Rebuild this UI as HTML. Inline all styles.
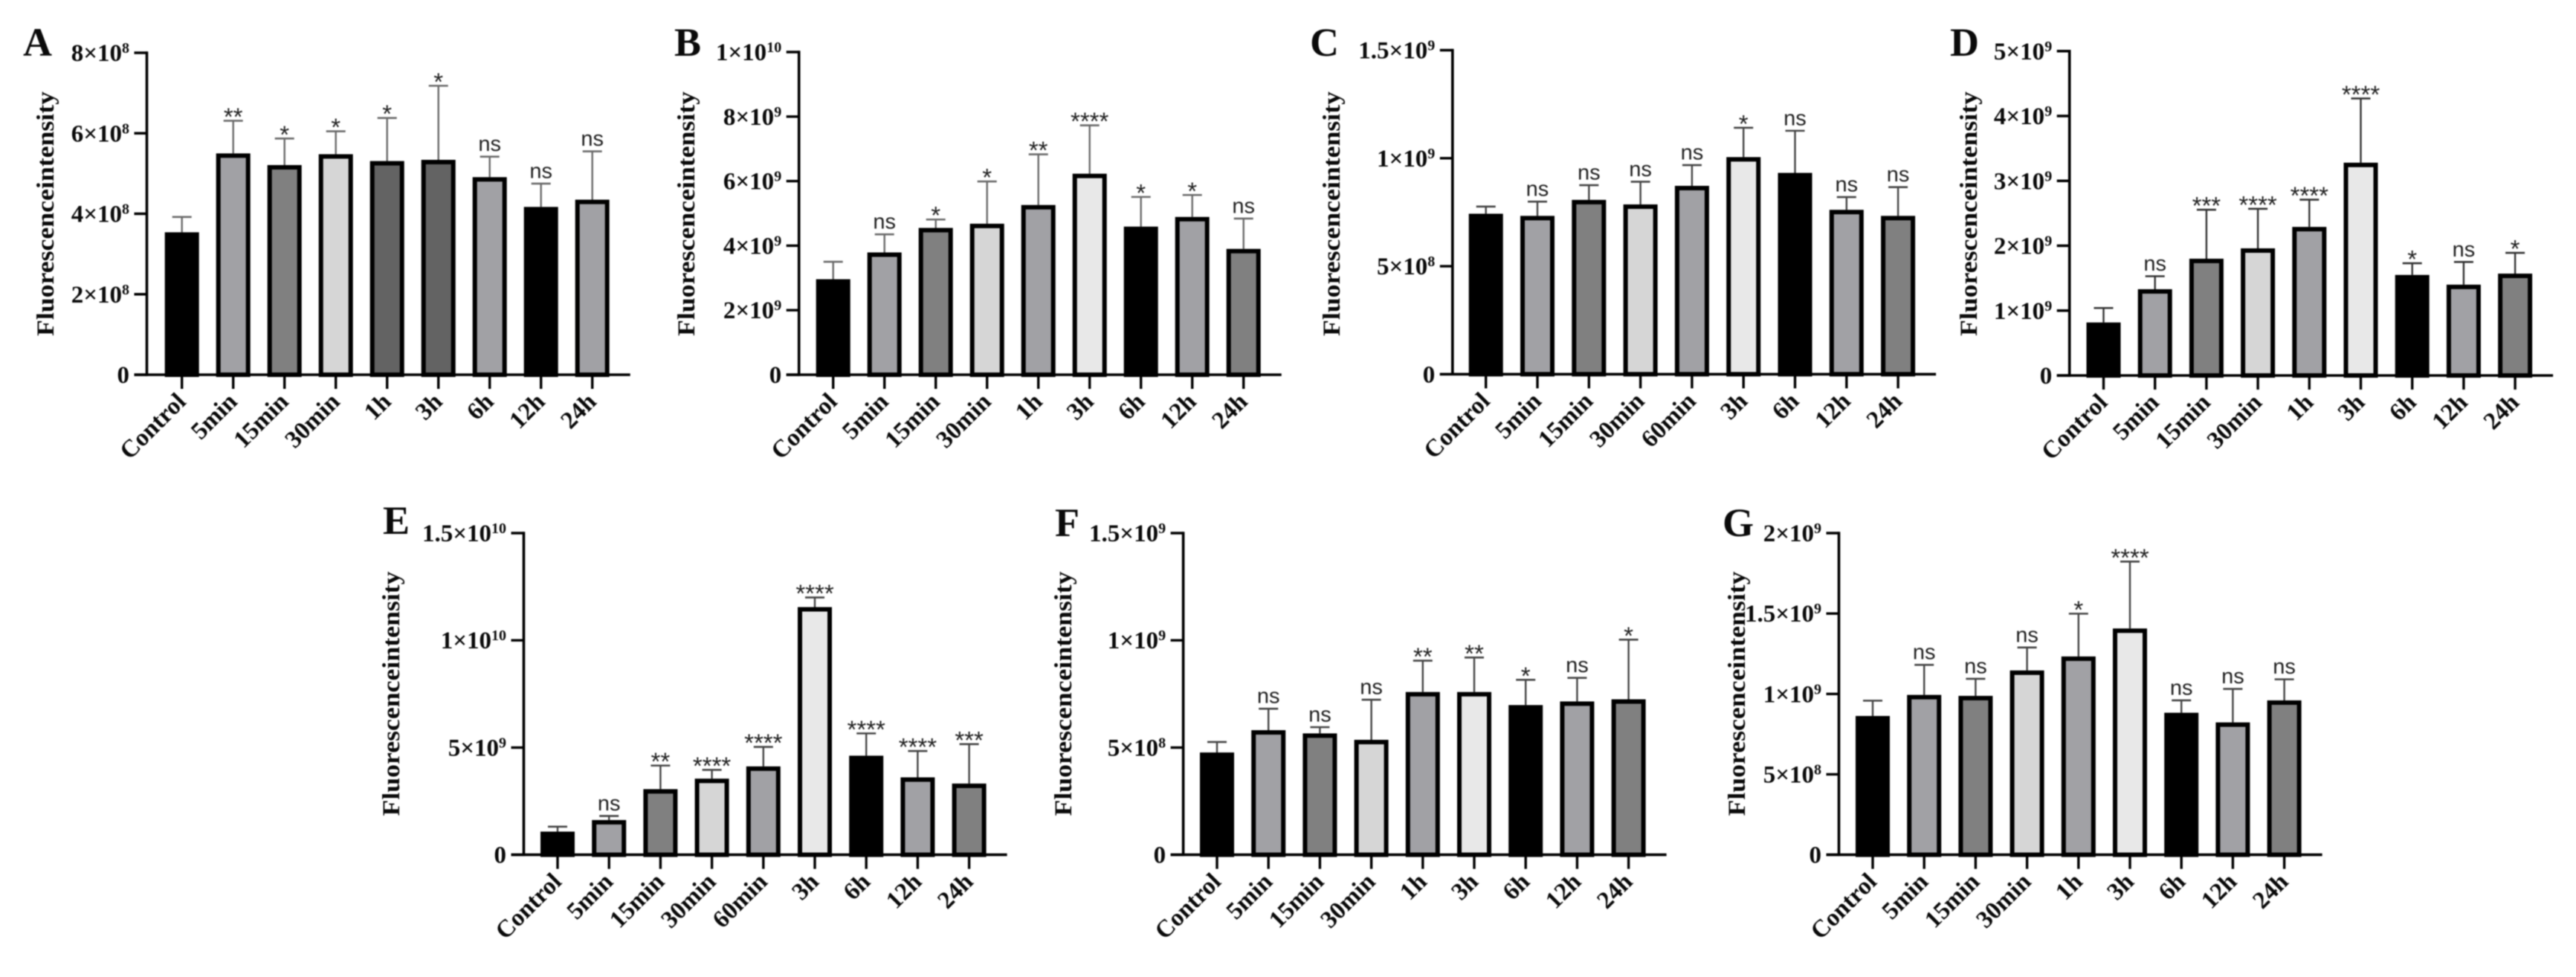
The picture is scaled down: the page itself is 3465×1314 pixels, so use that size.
<!DOCTYPE html>
<html lang="en">
<head>
<meta charset="utf-8">
<title>Fluorescence intensity bar charts</title>
<style>
  html, body { margin: 0; padding: 0; background: #fff; }
  body { width: 3465px; height: 1314px; overflow: hidden; }
  svg { display: block; filter: blur(0.9px); }
  text { fill: #0a0a0a; }
  .serif { font-family: "Liberation Serif", serif; font-weight: 700; }
  .sans { font-family: "Liberation Sans", sans-serif; font-weight: 400; fill: #222; }
</style>
</head>
<body>
<svg id="figure" xmlns="http://www.w3.org/2000/svg" width="3465" height="1314" viewBox="0 0 3465 1314"></svg>
<script>
// ---- Panel data ----
const categoriesA = ["Control","5min","15min","30min","1h","3h","6h","12h","24h"];
const valuesA = [3.54e8,5.5e8,5.21e8,5.48e8,5.31e8,5.34e8,4.91e8,4.17e8,4.35e8];
const errorTopsA = [3.92e8,6.31e8,5.87e8,6.05e8,6.38e8,7.18e8,5.42e8,4.75e8,5.55e8];
const significanceA = ["","**","*","*","*","*","ns","ns","ns"];
const yTickValuesA = [0,2e8,4e8,6e8,8e8];
const yTickLabelsA = ["0","2×10^8","4×10^8","6×10^8","8×10^8"];

const categoriesB = ["Control","5min","15min","30min","1h","3h","6h","12h","24h"];
const valuesB = [2.96e9,3.79e9,4.55e9,4.68e9,5.26e9,6.23e9,4.59e9,4.89e9,3.9e9];
const errorTopsB = [3.5e9,4.35e9,4.81e9,5.99e9,6.83e9,7.73e9,5.51e9,5.57e9,4.84e9];
const significanceB = ["","ns","*","*","**","****","*","*","ns"];
const yTickValuesB = [0,2e9,4e9,6e9,8e9,1e10];
const yTickLabelsB = ["0","2×10^9","4×10^9","6×10^9","8×10^9","1×10^10"];

const categoriesC = ["Control","5min","15min","30min","60min","3h","6h","12h","24h"];
const valuesC = [7.43e8,7.33e8,8.07e8,7.86e8,8.72e8,1.005e9,9.32e8,7.61e8,7.33e8];
const errorTopsC = [7.76e8,7.99e8,8.75e8,8.91e8,9.68e8,1.141e9,1.127e9,8.2e8,8.66e8];
const significanceC = ["","ns","ns","ns","ns","*","ns","ns","ns"];
const yTickValuesC = [0,5e8,1e9,1.5e9];
const yTickLabelsC = ["0","5×10^8","1×10^9","1.5×10^9"];

const categoriesD = ["Control","5min","15min","30min","1h","3h","6h","12h","24h"];
const valuesD = [8.17e8,1.33e9,1.8e9,1.96e9,2.29e9,3.28e9,1.55e9,1.4e9,1.57e9];
const errorTopsD = [1.04e9,1.53e9,2.555e9,2.57e9,2.71e9,4.27e9,1.73e9,1.75e9,1.89e9];
const significanceD = ["","ns","***","****","****","****","*","ns","*"];
const yTickValuesD = [0,1e9,2e9,3e9,4e9,5e9];
const yTickLabelsD = ["0","1×10^9","2×10^9","3×10^9","4×10^9","5×10^9"];

const categoriesE = ["Control","5min","15min","30min","60min","3h","6h","12h","24h"];
const valuesE = [1.08e9,1.62e9,3.06e9,3.55e9,4.12e9,1.155e10,4.62e9,3.61e9,3.32e9];
const errorTopsE = [1.31e9,1.81e9,4.16e9,3.96e9,5.03e9,1.2e10,5.66e9,4.84e9,5.16e9];
const significanceE = ["","ns","**","****","****","****","****","****","***"];
const yTickValuesE = [0,5e9,1e10,1.5e10];
const yTickLabelsE = ["0","5×10^9","1×10^10","1.5×10^10"];

const categoriesF = ["Control","5min","15min","30min","1h","3h","6h","12h","24h"];
const valuesF = [4.77e8,5.81e8,5.66e8,5.36e8,7.59e8,7.59e8,6.98e8,7.15e8,7.25e8];
const errorTopsF = [5.26e8,6.81e8,5.95e8,7.23e8,9.05e8,9.2e8,8.16e8,8.25e8,1.003e9];
const significanceF = ["","ns","ns","ns","**","**","*","ns","*"];
const yTickValuesF = [0,5e8,1e9,1.5e9];
const yTickLabelsF = ["0","5×10^8","1×10^9","1.5×10^9"];

const categoriesG = ["Control","5min","15min","30min","1h","3h","6h","12h","24h"];
const valuesG = [8.63e8,9.94e8,9.88e8,1.146e9,1.233e9,1.407e9,8.83e8,8.23e8,9.6e8];
const errorTopsG = [9.58e8,1.181e9,1.094e9,1.289e9,1.499e9,1.823e9,9.6e8,1.031e9,1.091e9];
const significanceG = ["","ns","ns","ns","*","****","ns","ns","ns"];
const yTickValuesG = [0,5e8,1e9,1.5e9,2e9];
const yTickLabelsG = ["0","5×10^8","1×10^9","1.5×10^9","2×10^9"];

// ---- Series styling ----
const fillsA = ["#000","#a1a1a5","#808080","#d6d6d6","#636363","#636363","#a1a1a5","#000","#a1a1a5"];
const fillsStd = ["#000","#a1a1a5","#808080","#d6d6d6","#a1a1a5","#e8e8e8","#000","#a1a1a5","#808080"];

// ---- Panel wiring and frame geometry ----
const panels = [
  {id:"A",cats:categoriesA,vals:valuesA,errs:errorTopsA,sig:significanceA,tv:yTickValuesA,tl:yTickLabelsA,fills:fillsA,errColor:"#6a6a6a",
   axisX:197.5,firstX:244.7,step:69,y0:504,yTop:71,titleX:72,titleY:287.5,letterX:31,letterY:75},
  {id:"B",cats:categoriesB,vals:valuesB,errs:errorTopsB,sig:significanceB,tv:yTickValuesB,tl:yTickLabelsB,fills:fillsStd,errColor:"#6a6a6a",
   axisX:1074.7,firstX:1120.7,step:69,y0:504,yTop:70,titleX:934,titleY:287.5,letterX:907,letterY:75},
  {id:"C",cats:categoriesC,vals:valuesC,errs:errorTopsC,sig:significanceC,tv:yTickValuesC,tl:yTickLabelsC,fills:fillsStd,errColor:"#444",
   axisX:1953.8,firstX:1998.7,step:69.3,y0:503.3,yTop:67.5,titleX:1802,titleY:287.5,letterX:1762,letterY:75},
  {id:"D",cats:categoriesD,vals:valuesD,errs:errorTopsD,sig:significanceD,tv:yTickValuesD,tl:yTickLabelsD,fills:fillsStd,errColor:"#333",
   axisX:2783.7,firstX:2829.5,step:69.2,y0:505,yTop:68.75,titleX:2659,titleY:287.5,letterX:2623,letterY:75},
  {id:"E",cats:categoriesE,vals:valuesE,errs:errorTopsE,sig:significanceE,tv:yTickValuesE,tl:yTickLabelsE,fills:fillsStd,errColor:"#444",
   axisX:704.5,firstX:750,step:69.2,y0:1149.6,yTop:717,titleX:537,titleY:933,letterX:515,letterY:718},
  {id:"F",cats:categoriesF,vals:valuesF,errs:errorTopsF,sig:significanceF,tv:yTickValuesF,tl:yTickLabelsF,fills:fillsStd,errColor:"#444",
   axisX:1591.6,firstX:1637,step:69.2,y0:1149.6,yTop:717,titleX:1441,titleY:933,letterX:1419,letterY:721},
  {id:"G",cats:categoriesG,vals:valuesG,errs:errorTopsG,sig:significanceG,tv:yTickValuesG,tl:yTickLabelsG,fills:fillsStd,errColor:"#444",
   axisX:2473.5,firstX:2519,step:69.2,y0:1149.6,yTop:717,titleX:2347,titleY:933,letterX:2317,letterY:721}
];

const NS = "http://www.w3.org/2000/svg";
function svgEl(tag, attrs, parent) {
  const el = document.createElementNS(NS, tag);
  for (const k in attrs) el.setAttribute(k, attrs[k]);
  parent.appendChild(el);
  return el;
}

const figure = document.getElementById("figure");
const BAR_W = 46, BORDER = 6, CAP_HALF = 13;

panels.forEach(function (p) {
  const yMax = p.tv[p.tv.length - 1];
  const yScale = function (v) { return p.y0 - (v / yMax) * (p.y0 - p.yTop); };
  const xScale = function (i) { return p.firstX + i * p.step; };
  const xEnd = xScale(p.cats.length - 1) + 51;

  const g = svgEl("g", {}, figure);
  
  

  const letter = svgEl("text", {x:p.letterX, y:p.letterY, "class":"serif", "font-size":54}, g);
  letter.textContent = p.id;
  
  

  const title = svgEl("text", {
    transform:"translate(" + p.titleX + "," + p.titleY + ") rotate(-90)",
    "text-anchor":"middle", "class":"serif", "font-size":33,
    textLength:329, lengthAdjust:"spacingAndGlyphs"
  }, g);
  title.textContent = "Fluorescenceintensity";
  
  

  p.vals.forEach(function (v, i) {
    const cx = xScale(i), top = yScale(v), errY = yScale(p.errs[i]);

    const errLine = svgEl("line", {x1:cx, x2:cx, y1:errY, y2:top, stroke:p.errColor, "stroke-width":2.4}, g);
    
    

    const errCap = svgEl("line", {x1:cx - CAP_HALF, x2:cx + CAP_HALF, y1:errY, y2:errY, stroke:p.errColor, "stroke-width":2.6}, g);
    
    

    const bar = svgEl("rect", {
      x:cx - BAR_W / 2 + BORDER / 2, y:top + BORDER / 2,
      width:BAR_W - BORDER, height:Math.max(0, p.y0 - top - BORDER / 2),
      fill:p.fills[i], stroke:"#000", "stroke-width":BORDER
    }, g);
    
    

    if (p.sig[i]) {
      const isNs = p.sig[i] === "ns";
      const sig = svgEl("text", {
        x:cx, y:isNs ? errY - 7.5 : errY + 6,
        "text-anchor":"middle", "class":"sans", "font-size":isNs ? 29 : 33
      }, g);
      sig.textContent = p.sig[i];
      
      
    }

    const xTick = svgEl("line", {x1:cx, x2:cx, y1:p.y0, y2:p.y0 + 19, stroke:"#000", "stroke-width":3.4}, g);
    
    

    const xLabel = svgEl("text", {
      transform:"translate(" + (cx + 7) + "," + (p.y0 + 38) + ") rotate(-45)",
      "text-anchor":"end", "class":"serif", "font-size":33
    }, g);
    xLabel.textContent = p.cats[i];
    
    
  });

  p.tv.forEach(function (t, i) {
    const y = yScale(t);
    const yTick = svgEl("line", {x1:p.axisX - 17, x2:p.axisX, y1:y, y2:y, stroke:"#000", "stroke-width":3.4}, g);
    
    

    const parts = p.tl[i].split("^");
    const yLabel = svgEl("text", {
      x:p.axisX - 23.5, y:y + 11, "text-anchor":"end", "class":"serif", "font-size":33
    }, g);
    
    
    const base = svgEl("tspan", {}, yLabel);
    base.textContent = parts[0];
    if (parts[1]) {
      const sup = svgEl("tspan", {dy:-11, "font-size":20}, yLabel);
      sup.textContent = parts[1];
    }
  });

  const yAxis = svgEl("line", {x1:p.axisX, x2:p.axisX, y1:p.yTop - 1.7, y2:p.y0 + 1.7, stroke:"#000", "stroke-width":3.6}, g);
  
  

  const xAxis = svgEl("line", {x1:p.axisX - 17, x2:xEnd, y1:p.y0, y2:p.y0, stroke:"#000", "stroke-width":3.6}, g);
  
  
});
</script>
</body>
</html>
